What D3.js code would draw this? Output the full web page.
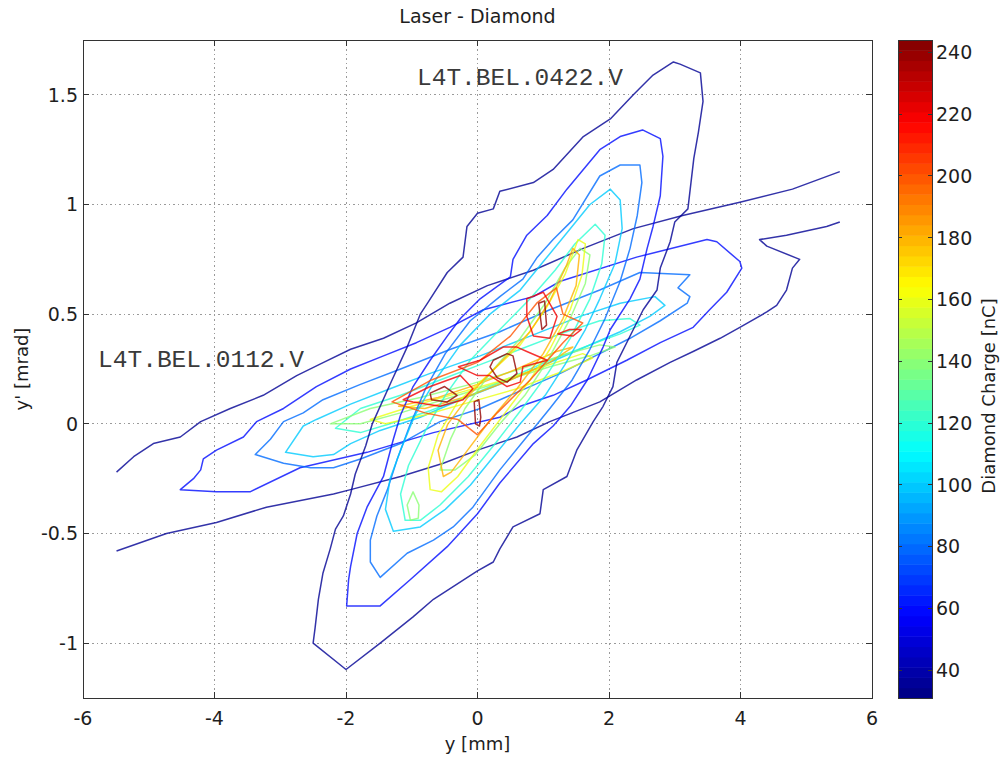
<!DOCTYPE html>
<html>
<head>
<meta charset="utf-8">
<script src="https://cdn.jsdelivr.net/npm/d3@7"></script>
<style>
  body { margin: 0; background: #fff; }
  text { font-family: "DejaVu Sans", sans-serif; fill: #1e1e1e; }
  .note { font-family: "Liberation Mono", "DejaVu Sans Mono", monospace; fill: #3a3a3a; }
</style>
</head>
<body>
<svg id="chart" width="1002" height="757"></svg>
<script>
// ---- data (y [mm] / y' [mrad]) ----
var xTicks = [-6, -4, -2, 0, 2, 4, 6];
var yTicks = [-1, -0.5, 0, 0.5, 1, 1.5];
var cTicks = [40, 60, 80, 100, 120, 140, 160, 180, 200, 220, 240];
var chargeRange = [31, 244];

// L4T.BEL.0422.V scan (steep family)
var a35 = [[-2.0,-1.12],[-2.5,-1.0],[-2.47,-0.93],[-2.42,-0.8],[-2.35,-0.68],[-2.24,-0.57],[-2.16,-0.48],[-2.04,-0.42],[-1.93,-0.32],[-1.86,-0.23],[-1.7,-0.1],[-1.6,0.0],[-1.3,0.2],[-1.07,0.35],[-0.87,0.5],[-0.76,0.55],[-0.46,0.69],[-0.22,0.76],[-0.16,0.9],[0.0,0.96],[0.24,0.98],[0.34,1.06],[0.85,1.1],[1.15,1.16],[1.61,1.31],[2.02,1.39],[2.37,1.5],[2.67,1.59],[2.98,1.65],[3.08,1.64],[3.39,1.6],[3.43,1.47],[3.36,1.33],[3.29,1.21],[3.2,0.98],[3.0,0.92],[2.93,0.83],[2.78,0.71],[2.73,0.61],[2.52,0.52],[2.37,0.43],[2.12,0.28],[2.06,0.17],[1.91,0.08],[1.76,0.01],[1.51,-0.12],[1.36,-0.24],[1.0,-0.3],[0.95,-0.41],[0.54,-0.47],[0.34,-0.57],[0.24,-0.63],[0.0,-0.67],[-0.67,-0.8],[-0.98,-0.88],[-1.48,-1.0]];
var a60 = [[-1.99,-0.83],[-1.96,-0.71],[-1.93,-0.65],[-1.83,-0.5],[-1.68,-0.38],[-1.43,-0.24],[-1.28,-0.07],[-1.17,0.04],[-0.98,0.17],[-0.72,0.29],[-0.46,0.4],[-0.26,0.48],[0.04,0.57],[0.5,0.67],[0.54,0.75],[0.75,0.86],[1.06,0.95],[1.36,1.07],[1.86,1.25],[2.17,1.31],[2.51,1.34],[2.78,1.3],[2.82,1.22],[2.78,1.04],[2.67,0.9],[2.58,0.8],[2.47,0.66],[2.32,0.57],[2.02,0.43],[1.91,0.35],[1.67,0.2],[1.41,0.08],[1.15,-0.01],[0.85,-0.09],[0.34,-0.27],[0.0,-0.41],[-0.46,-0.56],[-1.02,-0.71],[-1.48,-0.83]];
var a80 = [[-1.48,-0.7],[-1.63,-0.63],[-1.63,-0.53],[-1.53,-0.42],[-1.37,-0.3],[-1.22,-0.16],[-1.02,0.0],[-0.79,0.16],[-0.49,0.32],[-0.11,0.47],[0.34,0.58],[0.69,0.66],[0.91,0.76],[1.15,0.84],[1.45,0.93],[1.86,1.13],[2.17,1.18],[2.47,1.18],[2.5,1.1],[2.43,0.95],[2.32,0.8],[2.17,0.65],[1.94,0.48],[1.71,0.34],[1.44,0.2],[1.1,0.07],[0.72,-0.07],[0.34,-0.21],[-0.07,-0.38],[-0.37,-0.47],[-0.67,-0.53],[-1.07,-0.59]];
var a100 = [[-1.28,-0.49],[-1.4,-0.39],[-1.33,-0.25],[-1.17,-0.12],[-0.95,0.04],[-0.64,0.2],[-0.26,0.36],[0.19,0.5],[0.65,0.61],[1.03,0.75],[1.33,0.86],[1.71,1.0],[2.02,1.07],[2.17,1.02],[2.2,0.89],[2.09,0.73],[1.86,0.57],[1.64,0.43],[1.33,0.27],[1.03,0.13],[0.65,0.0],[0.27,-0.14],[-0.11,-0.28],[-0.49,-0.39],[-0.87,-0.47]];
var a120 = [[-1.1,-0.44],[-1.17,-0.32],[-1.05,-0.19],[-0.79,-0.03],[-0.49,0.13],[-0.11,0.29],[0.34,0.43],[0.8,0.57],[1.18,0.7],[1.48,0.82],[1.79,0.91],[1.94,0.86],[1.89,0.73],[1.71,0.57],[1.41,0.39],[1.07,0.23],[0.68,0.07],[0.27,-0.09],[-0.14,-0.24],[-0.57,-0.37],[-0.87,-0.44]];
var a140 = [[-0.57,-0.21],[-0.41,-0.07],[-0.19,0.07],[0.19,0.23],[0.65,0.39],[1.03,0.55],[1.33,0.71],[1.56,0.8],[1.71,0.77],[1.64,0.64],[1.41,0.48],[1.07,0.29],[0.72,0.13],[0.34,0.0],[-0.03,-0.14],[-0.34,-0.21]];
var a140b = [[-1.02,-0.44],[-1.07,-0.37],[-0.98,-0.31],[-0.89,-0.37],[-0.9,-0.43]];
var a160 = [[-0.72,-0.3],[-0.75,-0.2],[-0.6,-0.05],[-0.3,0.1],[0.15,0.22],[0.65,0.36],[1.03,0.52],[1.33,0.68],[1.53,0.84],[1.64,0.82],[1.59,0.68],[1.41,0.52],[1.1,0.34],[0.8,0.2],[0.42,0.05],[0.04,-0.1],[-0.3,-0.24],[-0.55,-0.31]];
var a180 = [[-0.52,-0.24],[-0.6,-0.12],[-0.45,0.0],[-0.1,0.14],[0.35,0.28],[0.8,0.42],[1.1,0.56],[1.35,0.72],[1.45,0.8],[1.55,0.77],[1.5,0.63],[1.3,0.48],[1.0,0.32],[0.6,0.16],[0.2,0.02],[-0.15,-0.12],[-0.4,-0.22]];

// L4T.BEL.0112.V scan (shallow family); outer level is cut at the scan ends
var b35upper = [[-5.49,-0.22],[-5.23,-0.15],[-4.93,-0.09],[-4.52,-0.06],[-4.21,0.01],[-3.76,0.07],[-3.26,0.13],[-2.75,0.22],[-2.34,0.28],[-1.93,0.34],[-1.43,0.39],[-0.93,0.46],[-0.42,0.55],[0.15,0.63],[0.85,0.7],[1.61,0.8],[2.37,0.89],[3.12,0.95],[3.99,1.01],[4.79,1.07],[5.51,1.15]];
var b35lower = [[-5.49,-0.58],[-4.73,-0.5],[-3.97,-0.45],[-3.21,-0.38],[-2.19,-0.32],[-1.93,-0.3],[-1.17,-0.24],[-0.52,-0.18],[0.0,-0.12],[0.6,-0.06],[1.1,0.01],[1.86,0.1],[2.42,0.2],[2.93,0.28],[3.28,0.33],[3.69,0.39],[3.99,0.44],[4.4,0.51],[4.55,0.54],[4.7,0.61],[4.79,0.71],[4.9,0.75],[4.4,0.81],[4.29,0.84],[4.7,0.86],[5.31,0.9],[5.51,0.92]];
var b60 = [[-4.52,-0.3],[-4.32,-0.25],[-4.21,-0.21],[-4.17,-0.16],[-3.97,-0.12],[-3.56,-0.06],[-3.36,0.01],[-2.95,0.07],[-2.45,0.17],[-1.93,0.25],[-1.43,0.31],[-0.93,0.37],[-0.42,0.44],[0.09,0.52],[0.85,0.58],[1.26,0.65],[2.42,0.76],[3.49,0.84],[3.64,0.83],[3.99,0.74],[4.02,0.71],[3.79,0.6],[3.53,0.52],[3.28,0.44],[2.78,0.37],[2.27,0.29],[1.66,0.2],[1.15,0.13],[0.65,0.08],[0.34,0.03],[-0.67,-0.04],[-1.68,-0.13],[-2.7,-0.2],[-3.46,-0.31],[-3.97,-0.31]];
var b80 = [[-3.38,-0.14],[-3.15,-0.07],[-2.95,0.01],[-2.65,0.05],[-2.35,0.11],[-1.78,0.18],[-1.17,0.25],[-0.41,0.34],[0.34,0.42],[1.1,0.52],[1.86,0.61],[2.47,0.69],[3.23,0.68],[3.05,0.62],[3.23,0.58],[3.19,0.55],[2.78,0.47],[2.32,0.39],[1.86,0.32],[1.26,0.23],[0.65,0.15],[0.04,0.07],[-0.57,0.01],[-1.17,-0.09],[-1.78,-0.16],[-2.19,-0.2],[-2.54,-0.2],[-2.95,-0.18]];
var b100 = [[-2.92,-0.13],[-2.65,-0.01],[-2.45,0.02],[-1.93,0.09],[-1.33,0.16],[-0.72,0.23],[0.04,0.31],[0.8,0.4],[1.56,0.49],[2.17,0.55],[2.7,0.58],[2.85,0.54],[2.62,0.49],[2.17,0.42],[1.56,0.34],[0.95,0.26],[0.34,0.18],[-0.26,0.11],[-0.87,0.03],[-1.48,-0.03],[-1.93,-0.09],[-2.19,-0.14],[-2.5,-0.15]];
var b120 = [[-2.16,-0.02],[-1.78,0.07],[-1.17,0.13],[-0.57,0.2],[0.04,0.27],[0.65,0.34],[1.26,0.41],[1.86,0.47],[2.32,0.48],[2.47,0.45],[2.17,0.41],[1.71,0.36],[1.1,0.29],[0.5,0.21],[-0.11,0.13],[-0.72,0.06],[-1.33,0.0],[-1.78,-0.04]];
var b140 = [[-2.24,0.0],[-1.63,0.07],[-0.87,0.12],[-0.11,0.18],[0.65,0.25],[1.26,0.31],[1.86,0.36],[2.09,0.35],[1.71,0.31],[1.1,0.26],[0.34,0.19],[-0.41,0.12],[-1.17,0.05],[-1.78,0.0]];
var b160 = [[-1.63,0.02],[-1.0,0.08],[-0.3,0.14],[0.4,0.2],[1.0,0.26],[1.6,0.32],[1.75,0.3],[1.3,0.24],[0.6,0.16],[-0.1,0.1],[-0.8,0.04],[-1.4,0.0]];
var b180 = [[-1.2,0.08],[-0.6,0.12],[0.0,0.18],[0.6,0.25],[1.2,0.33],[1.45,0.35],[1.1,0.28],[0.5,0.2],[-0.1,0.13],[-0.8,0.07]];

// peak region, where both scans overlap
var c200 = [[-1.3,0.1],[-0.7,0.2],[0.0,0.28],[0.5,0.4],[0.9,0.55],[1.2,0.62],[1.3,0.5],[1.6,0.46],[1.3,0.37],[0.8,0.2],[0.3,0.05],[0.0,-0.05],[-0.3,0.02],[-0.8,0.05]];
var c220a = [[-0.29,0.26],[0.04,0.29],[0.39,0.35],[0.6,0.35],[0.75,0.33],[1.06,0.29],[0.69,0.26],[0.65,0.19],[0.45,0.17],[0.19,0.22],[0.0,0.22]];
var c220b = [[-1.13,0.11],[-0.72,0.17],[-0.26,0.22],[-0.07,0.16],[-0.22,0.11],[-0.57,0.08],[-0.98,0.1]];
var c220c = [[0.75,0.57],[1.0,0.6],[1.21,0.49],[1.1,0.39],[0.85,0.4],[0.75,0.49]];
var c220d = [[1.22,0.41],[1.4,0.43],[1.58,0.43],[1.45,0.4]];
var c240a = [[0.24,0.29],[0.45,0.32],[0.54,0.31],[0.6,0.23],[0.45,0.19],[0.3,0.21],[0.19,0.26]];
var c240b = [[-0.72,0.14],[-0.5,0.17],[-0.31,0.13],[-0.46,0.1],[-0.7,0.11]];
var c240c = [[-0.05,0.1],[0.02,0.11],[0.05,0.03],[0.03,-0.01],[-0.03,0.0]];
var c240d = [[0.93,0.55],[1.02,0.56],[1.05,0.45],[0.98,0.43]];

var contourSet = [
  { level: 35,  pts: b35upper, closed: false },
  { level: 35,  pts: b35lower, closed: false },
  { level: 60,  pts: b60,  closed: true },
  { level: 80,  pts: b80,  closed: true },
  { level: 100, pts: b100, closed: true },
  { level: 120, pts: b120, closed: true },
  { level: 140, pts: b140, closed: true },
  { level: 160, pts: b160, closed: true },
  { level: 180, pts: b180, closed: true },
  { level: 35,  pts: a35,  closed: true },
  { level: 60,  pts: a60,  closed: true },
  { level: 80,  pts: a80,  closed: true },
  { level: 100, pts: a100, closed: true },
  { level: 120, pts: a120, closed: true },
  { level: 140, pts: a140, closed: true },
  { level: 140, pts: a140b, closed: true },
  { level: 160, pts: a160, closed: true },
  { level: 180, pts: a180, closed: true },
  { level: 200, pts: c200, closed: true },
  { level: 220, pts: c220a, closed: true },
  { level: 220, pts: c220b, closed: true },
  { level: 220, pts: c220c, closed: true },
  { level: 220, pts: c220d, closed: true },
  { level: 240, pts: c240a, closed: true },
  { level: 240, pts: c240b, closed: true },
  { level: 240, pts: c240c, closed: true },
  { level: 240, pts: c240d, closed: true }
];

var notes = [
  { text: 'L4T.BEL.0422.V', x: -0.92, y: 1.545 },
  { text: 'L4T.BEL.0112.V', x: -5.77, y: 0.257 }
];

// ---- layout ----
var svg = d3.select('#chart');
var plot = { left: 83, right: 872, top: 40, bottom: 698 };
var bar = { left: 898, right: 932 };

var x = d3.scaleLinear().domain([-6, 6]).range([plot.left, plot.right]);
var y = d3.scaleLinear().domain([-1.25, 1.75]).range([plot.bottom, plot.top]);
var cy = d3.scaleLinear().domain(chargeRange).range([plot.bottom, plot.top]);

// matlab jet
var jetStops = [0, 0.125, 0.375, 0.625, 0.875, 1];
var jet = d3.scaleLinear()
  .domain(jetStops.map(function(t) { return chargeRange[0] + t * (chargeRange[1] - chargeRange[0]); }))
  .range(['#000080', '#0000ff', '#00ffff', '#ffff00', '#ff0000', '#800000'])
  .clamp(true);

svg.append('defs').append('clipPath').attr('id', 'clip')
  .append('rect')
  .attr('x', plot.left).attr('y', plot.top)
  .attr('width', plot.right - plot.left).attr('height', plot.bottom - plot.top);

// grid
var grid = svg.append('g').attr('class', 'grid')
  .style('stroke', '#9a9a9a').style('stroke-width', 1)
  .style('stroke-dasharray', '1.5,3').style('shape-rendering', 'crispEdges');
grid.selectAll('.gx').data(xTicks.slice(1, -1)).enter().append('line')
  .attr('x1', x).attr('x2', x).attr('y1', plot.top).attr('y2', plot.bottom);
grid.selectAll('.gy').data(yTicks).enter().append('line')
  .attr('x1', plot.left).attr('x2', plot.right).attr('y1', y).attr('y2', y);

// contours
var openLine = d3.line().x(function(d) { return x(d[0]); }).y(function(d) { return y(d[1]); });
var closedLine = d3.line().x(function(d) { return x(d[0]); }).y(function(d) { return y(d[1]); })
  .curve(d3.curveLinearClosed);

svg.append('g').attr('clip-path', 'url(#clip)')
  .selectAll('path').data(contourSet).enter().append('path')
  .attr('d', function(d) { return d.closed ? closedLine(d.pts) : openLine(d.pts); })
  .style('fill', 'none')
  .style('stroke', function(d) { return jet(d.level); })
  .style('stroke-opacity', 0.8)
  .style('stroke-width', 1.5)
  .style('stroke-linejoin', 'round');

// notes
svg.selectAll('.note').data(notes).enter().append('text')
  .attr('class', 'note')
  .attr('x', function(d) { return x(d.x); })
  .attr('y', function(d) { return y(d.y); })
  .style('font-size', '24.5px')
  .text(function(d) { return d.text; });

// frame and ticks
var axisColor = '#333';
svg.append('rect')
  .attr('x', plot.left).attr('y', plot.top)
  .attr('width', plot.right - plot.left).attr('height', plot.bottom - plot.top)
  .style('fill', 'none').style('stroke', axisColor).style('shape-rendering', 'crispEdges');

var tl = 6;
var ticks = svg.append('g').style('stroke', axisColor).style('shape-rendering', 'crispEdges');
xTicks.forEach(function(v) {
  ticks.append('line').attr('x1', x(v)).attr('x2', x(v)).attr('y1', plot.bottom).attr('y2', plot.bottom - tl);
  ticks.append('line').attr('x1', x(v)).attr('x2', x(v)).attr('y1', plot.top).attr('y2', plot.top + tl);
});
yTicks.forEach(function(v) {
  ticks.append('line').attr('x1', plot.left).attr('x2', plot.left + tl).attr('y1', y(v)).attr('y2', y(v));
  ticks.append('line').attr('x1', plot.right).attr('x2', plot.right - tl).attr('y1', y(v)).attr('y2', y(v));
});

svg.selectAll('.xt').data(xTicks).enter().append('text')
  .attr('x', x).attr('y', 725)
  .attr('text-anchor', 'middle').style('font-size', '19px')
  .text(function(d) { return d; });
svg.selectAll('.yt').data(yTicks).enter().append('text')
  .attr('x', plot.left - 5).attr('y', y).attr('dy', '0.36em')
  .attr('text-anchor', 'end').style('font-size', '19px')
  .text(function(d) { return d; });

svg.append('text').attr('x', x(0)).attr('y', 750)
  .attr('text-anchor', 'middle').style('font-size', '18px').text('y [mm]');
svg.append('text').attr('transform', 'translate(28,' + y(0.25) + ') rotate(-90)')
  .attr('text-anchor', 'middle').style('font-size', '18px').text("y' [mrad]");
svg.append('text').attr('x', x(0)).attr('y', 23)
  .attr('text-anchor', 'middle').style('font-size', '19px').text('Laser - Diamond');

// colorbar
var nBands = 64;
var bandStep = (chargeRange[1] - chargeRange[0]) / nBands;
svg.append('g').selectAll('rect').data(d3.range(nBands)).enter().append('rect')
  .attr('x', bar.left)
  .attr('width', bar.right - bar.left)
  .attr('y', function(i) { return cy(chargeRange[0] + (i + 1) * bandStep); })
  .attr('height', function(i) { return cy(chargeRange[0] + i * bandStep) - cy(chargeRange[0] + (i + 1) * bandStep) + 0.5; })
  .style('fill', function(i) { return jet(chargeRange[0] + (i + 0.5) * bandStep); });

svg.append('rect')
  .attr('x', bar.left).attr('y', plot.top)
  .attr('width', bar.right - bar.left).attr('height', plot.bottom - plot.top)
  .style('fill', 'none').style('stroke', axisColor).style('shape-rendering', 'crispEdges');

var cticks = svg.append('g').style('stroke', axisColor).style('shape-rendering', 'crispEdges');
cTicks.forEach(function(v) {
  cticks.append('line').attr('x1', bar.left).attr('x2', bar.left + 4).attr('y1', cy(v)).attr('y2', cy(v));
  cticks.append('line').attr('x1', bar.right).attr('x2', bar.right - 4).attr('y1', cy(v)).attr('y2', cy(v));
});
svg.selectAll('.ct').data(cTicks).enter().append('text')
  .attr('x', bar.right + 4).attr('y', cy).attr('dy', '0.36em')
  .style('font-size', '19px')
  .text(function(d) { return d; });

svg.append('text').attr('transform', 'translate(995,396) rotate(-90)')
  .attr('text-anchor', 'middle').style('font-size', '18px').text('Diamond Charge [nC]');
</script>
</body>
</html>
